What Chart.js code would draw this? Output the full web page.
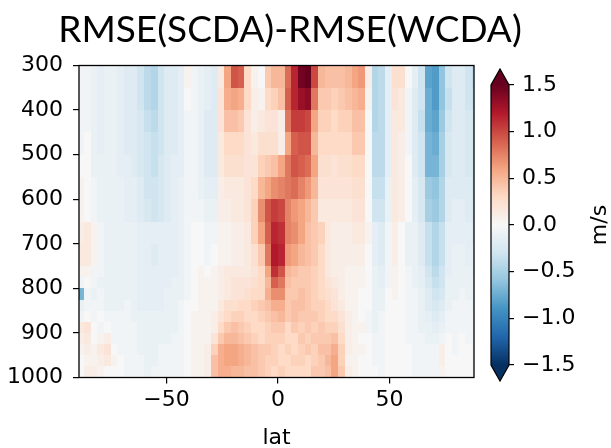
<!DOCTYPE html>
<html>
<head>
<meta charset="utf-8">
<script src="https://cdn.jsdelivr.net/npm/chart.js@4.4.0/dist/chart.umd.min.js"></script>
<style>
  html, body { margin: 0; padding: 0; background: #fff; }
  #wrap { position: relative; width: 611px; height: 448px; overflow: hidden; }
  #main { position: absolute; left: 0; top: 0; }
  #cbar { position: absolute; left: 480px; top: 0; }
</style>
</head>
<body>
<div id="wrap">
  <canvas id="main" width="580" height="448"></canvas>
  <canvas id="cbar" width="131" height="448"></canvas>
</div>
<script>
// latitude centres of the grid columns (deg)
const latCenters = [
  -88.5, -85.5, -82.5, -79.5, -76.5, -73.5, -70.5, -67.5, -64.5, -61.5,
  -58.5, -55.5, -52.5, -49.5, -46.5, -43.5, -40.5, -37.5, -34.5, -31.5,
  -28.5, -25.5, -22.5, -19.5, -16.5, -13.5, -10.5, -7.5, -4.5, -1.5,
  1.5, 4.5, 7.5, 10.5, 13.5, 16.5, 19.5, 22.5, 25.5, 28.5,
  31.5, 34.5, 37.5, 40.5, 43.5, 46.5, 49.5, 52.5, 55.5, 58.5,
  61.5, 64.5, 67.5, 70.5, 73.5, 76.5, 79.5, 82.5, 85.5, 88.5
];
// pressure edges of the rows (hPa)
const levelEdges = [300, 350, 400, 450, 500, 550, 600, 650, 700, 750, 775, 800, 825, 850, 875, 900, 925, 950, 975, 1000];

// RMSE(SCDA) - RMSE(WCDA), one row per layer (m/s)
const lev300 = [-0.05,-0.05,-0.1,-0.15,-0.1,-0.1,-0.15,-0.2,-0.2,-0.3,-0.4,-0.45,-0.3,-0.2,-0.2,
  -0.15,0.05,-0.05,-0.1,-0.15,-0.2,
  0.15,0.6,0.95,0.9,0.3,0.05,0.0,0.4,0.5,
  0.5,0.85,1.15,1.45,1.5,1.0,0.5,0.45,0.45,0.45,0.5,0.6,0.65,0.1,-0.45,
  -0.4,-0.15,0.25,0.25,0.0,-0.15,-0.3,-0.8,-0.85,-0.6,-0.3,-0.2,-0.2,-0.3,-0.4];
const lev350 = [-0.05,-0.05,-0.1,-0.15,-0.1,-0.1,-0.15,-0.2,-0.2,-0.3,-0.4,-0.45,-0.3,-0.2,-0.2,
  -0.15,0.0,-0.05,-0.1,-0.15,-0.2,
  0.2,0.55,0.6,0.55,0.3,0.1,0.05,0.3,0.35,
  0.45,0.9,1.15,1.3,1.35,0.8,0.4,0.4,0.35,0.4,0.45,0.5,0.55,0.05,-0.45,
  -0.4,-0.15,0.2,0.15,-0.05,-0.2,-0.3,-0.75,-0.85,-0.6,-0.35,-0.2,-0.2,-0.3,-0.35];
const lev400 = [-0.05,-0.05,-0.1,-0.15,-0.1,-0.1,-0.15,-0.2,-0.2,-0.25,-0.35,-0.4,-0.3,-0.2,-0.2,
  -0.15,-0.05,-0.05,-0.1,-0.2,-0.2,
  0.2,0.45,0.45,0.4,0.2,0.1,0.15,0.2,0.2,
  0.1,0.8,1.05,1.05,1.0,0.6,0.35,0.35,0.3,0.35,0.35,0.45,0.45,0.0,-0.45,
  -0.4,-0.15,0.15,0.15,-0.05,-0.2,-0.35,-0.75,-0.8,-0.55,-0.3,-0.2,-0.2,-0.25,-0.3];
const lev450 = [-0.05,0.0,-0.1,-0.15,-0.1,-0.1,-0.15,-0.2,-0.2,-0.25,-0.3,-0.35,-0.3,-0.2,-0.2,
  -0.15,-0.05,-0.05,-0.1,-0.2,-0.2,
  0.15,0.3,0.3,0.3,0.2,0.15,0.25,0.25,0.25,
  0.1,0.6,0.9,0.95,0.95,0.5,0.3,0.3,0.3,0.3,0.3,0.4,0.4,0.0,-0.4,
  -0.4,-0.15,0.15,0.1,-0.05,-0.2,-0.3,-0.7,-0.75,-0.5,-0.25,-0.2,-0.2,-0.25,-0.3];
const lev500 = [0.0,0.0,-0.1,-0.1,-0.1,-0.1,-0.15,-0.15,-0.2,-0.25,-0.3,-0.35,-0.25,-0.2,-0.15,
  -0.15,-0.05,-0.05,-0.1,-0.2,-0.2,
  0.15,0.25,0.25,0.25,0.2,0.2,0.35,0.4,0.45,
  0.6,0.8,0.95,0.9,0.85,0.6,0.25,0.25,0.2,0.25,0.25,0.3,0.3,0.0,-0.4,
  -0.4,-0.15,0.15,0.1,0.0,-0.2,-0.3,-0.7,-0.7,-0.5,-0.25,-0.2,-0.2,-0.25,-0.3];
const lev550 = [0.05,0.0,-0.05,-0.1,-0.1,-0.1,-0.1,-0.15,-0.15,-0.2,-0.3,-0.3,-0.25,-0.2,-0.15,
  -0.1,-0.05,-0.05,-0.1,-0.15,-0.15,
  0.1,0.15,0.15,0.15,0.2,0.3,0.5,0.6,0.7,
  0.75,0.8,0.85,0.75,0.65,0.5,0.2,0.2,0.2,0.2,0.2,0.25,0.25,0.0,-0.35,
  -0.35,-0.1,0.15,0.1,0.0,-0.15,-0.25,-0.55,-0.6,-0.45,-0.2,-0.2,-0.2,-0.2,-0.3];
const lev600 = [0.05,0.0,-0.05,-0.1,-0.1,-0.1,-0.1,-0.15,-0.15,-0.2,-0.25,-0.3,-0.25,-0.2,-0.15,
  -0.1,-0.05,-0.05,-0.05,-0.1,-0.1,
  0.1,0.1,0.15,0.15,0.2,0.35,0.7,0.95,1.05,
  1.0,0.75,0.65,0.6,0.5,0.4,0.15,0.15,0.15,0.15,0.15,0.2,0.2,0.0,-0.3,
  -0.3,-0.1,0.15,0.1,0.0,-0.15,-0.25,-0.5,-0.55,-0.45,-0.2,-0.15,-0.15,-0.2,-0.25];
const lev650 = [0.1,0.15,0.05,-0.05,-0.1,-0.1,-0.1,-0.1,-0.1,-0.15,-0.15,-0.15,-0.15,-0.15,-0.15,
  -0.1,-0.05,0.0,0.0,-0.05,-0.05,
  0.05,0.05,0.1,0.1,0.15,0.35,0.6,0.9,1.15,
  1.1,0.75,0.7,0.6,0.45,0.4,0.35,0.15,0.1,0.1,0.1,0.15,0.15,0.05,-0.15,
  -0.2,-0.05,0.1,0.0,-0.1,-0.1,-0.2,-0.35,-0.45,-0.35,-0.15,-0.15,-0.15,-0.15,-0.2];
const lev700 = [0.15,0.15,0.05,-0.05,-0.1,-0.1,-0.1,-0.1,-0.1,-0.15,-0.15,-0.2,-0.15,-0.15,-0.15,
  -0.1,-0.05,0.0,0.0,-0.05,0.0,
  0.05,0.05,0.1,0.1,0.15,0.25,0.4,0.8,1.2,
  1.15,0.65,0.6,0.5,0.45,0.4,0.3,0.15,0.1,0.1,0.1,0.1,0.1,0.0,-0.15,
  -0.2,-0.05,0.1,0.0,-0.1,-0.1,-0.2,-0.35,-0.45,-0.35,-0.15,-0.1,-0.1,-0.15,-0.15];
const lev750 = [0.05,0.05,-0.05,-0.05,-0.1,-0.1,-0.1,-0.1,-0.1,-0.15,-0.15,-0.15,-0.15,-0.15,-0.15,
  -0.1,-0.05,0.0,0.05,0.0,0.05,
  0.1,0.15,0.15,0.15,0.15,0.2,0.3,0.6,1.1,
  0.95,0.5,0.45,0.4,0.4,0.35,0.3,0.15,0.1,0.1,0.05,0.05,0.05,0.0,-0.1,
  -0.15,-0.05,0.05,0.0,-0.05,-0.1,-0.15,-0.3,-0.4,-0.3,-0.15,-0.1,-0.1,-0.1,-0.15];
const lev775 = [-0.05,0.0,-0.05,-0.1,-0.1,-0.1,-0.1,-0.1,-0.1,-0.15,-0.15,-0.15,-0.15,-0.15,-0.1,
  -0.1,-0.05,0.0,0.05,0.05,0.05,
  0.1,0.15,0.2,0.2,0.2,0.25,0.3,0.5,0.9,
  0.8,0.45,0.4,0.4,0.4,0.35,0.3,0.2,0.15,0.1,0.05,0.05,0.05,0.0,-0.1,
  -0.15,-0.05,0.05,0.0,-0.05,-0.1,-0.15,-0.25,-0.35,-0.3,-0.1,-0.1,-0.1,-0.1,-0.1];
const lev800 = [-0.7,-0.05,-0.1,-0.05,-0.1,-0.1,-0.1,-0.1,-0.1,-0.15,-0.15,-0.15,-0.15,-0.1,-0.1,
  -0.1,-0.05,0.0,0.05,0.05,0.05,
  0.1,0.15,0.2,0.2,0.25,0.3,0.3,0.55,0.7,
  0.7,0.4,0.4,0.45,0.4,0.35,0.3,0.25,0.2,0.1,0.05,0.05,0.0,0.0,-0.1,
  -0.1,0.0,0.05,0.0,-0.05,-0.05,-0.1,-0.2,-0.3,-0.25,-0.1,-0.1,-0.05,-0.1,-0.1];
const lev825 = [-0.1,-0.05,-0.05,-0.05,-0.1,-0.1,-0.1,-0.05,-0.1,-0.15,-0.15,-0.15,-0.15,-0.1,-0.1,
  -0.05,0.0,0.0,0.05,0.05,0.05,
  0.15,0.25,0.25,0.3,0.3,0.35,0.4,0.45,0.55,
  0.55,0.4,0.45,0.45,0.4,0.35,0.35,0.3,0.2,0.15,0.05,0.05,0.0,0.0,-0.1,
  -0.1,0.0,0.0,0.0,-0.05,-0.05,-0.1,-0.2,-0.25,-0.2,-0.1,-0.05,-0.05,-0.05,-0.1];
const lev850 = [-0.05,0.0,-0.05,0.0,-0.05,-0.05,-0.05,-0.05,-0.1,-0.1,-0.1,-0.1,-0.1,-0.1,-0.1,
  -0.05,0.0,0.05,0.05,0.05,0.1,
  0.2,0.3,0.35,0.35,0.3,0.3,0.35,0.4,0.45,
  0.5,0.4,0.45,0.4,0.4,0.4,0.35,0.3,0.3,0.2,0.1,0.05,0.0,-0.05,-0.1,
  -0.05,0.0,0.0,0.0,-0.05,-0.05,-0.1,-0.15,-0.2,-0.15,-0.05,-0.05,-0.05,-0.05,-0.05];
const lev875 = [0.15,0.2,0.0,-0.05,0.0,-0.05,-0.05,-0.05,-0.05,-0.1,-0.1,-0.1,-0.1,-0.1,-0.1,
  -0.05,0.0,0.05,0.05,0.05,0.1,
  0.3,0.4,0.45,0.4,0.35,0.3,0.3,0.35,0.4,
  0.4,0.3,0.4,0.35,0.4,0.35,0.4,0.35,0.35,0.25,0.1,0.05,0.05,-0.05,-0.1,
  -0.05,0.0,0.0,0.0,-0.05,-0.05,-0.1,-0.1,-0.15,-0.1,-0.05,-0.05,-0.05,-0.05,-0.05];
const lev900 = [0.1,0.15,0.0,0.05,0.1,-0.05,-0.05,-0.05,-0.05,-0.1,-0.1,-0.1,-0.1,-0.1,-0.05,
  -0.05,0.0,0.05,0.05,0.05,0.2,
  0.4,0.5,0.5,0.45,0.4,0.35,0.3,0.35,0.35,
  0.35,0.3,0.3,0.4,0.35,0.4,0.4,0.4,0.45,0.3,0.1,0.05,0.0,0.0,-0.05,
  -0.05,0.0,0.0,0.0,-0.05,-0.05,-0.05,-0.1,-0.1,-0.05,0.0,-0.05,0.0,-0.05,-0.05];
const lev925 = [0.05,0.1,0.05,0.15,0.2,0.0,-0.05,-0.05,-0.05,-0.1,-0.1,-0.1,-0.05,-0.05,-0.05,
  -0.05,0.0,0.05,0.05,0.1,0.35,
  0.55,0.6,0.6,0.55,0.5,0.45,0.4,0.4,0.35,
  0.3,0.35,0.3,0.35,0.4,0.35,0.45,0.45,0.55,0.35,0.1,0.05,0.05,0.0,-0.05,
  -0.05,0.0,0.0,0.0,0.0,-0.05,-0.05,-0.05,-0.05,0.1,0.0,-0.05,0.0,0.0,-0.05];
const lev950 = [0.0,0.05,0.05,0.1,0.15,0.05,0.0,-0.05,-0.05,-0.05,-0.1,-0.1,-0.05,-0.05,-0.05,
  -0.05,0.0,0.05,0.05,0.1,0.45,
  0.55,0.6,0.6,0.55,0.5,0.45,0.4,0.35,0.35,
  0.3,0.3,0.35,0.35,0.3,0.35,0.4,0.5,0.6,0.35,0.05,0.05,0.0,0.0,-0.05,
  -0.05,0.0,0.0,0.0,0.0,-0.05,-0.05,-0.05,-0.05,0.1,0.0,0.0,0.0,0.0,-0.05];
const lev975 = [0.0,0.1,0.1,0.05,0.0,0.0,0.0,-0.05,-0.05,-0.05,-0.1,-0.05,-0.05,-0.05,-0.05,
  -0.05,0.0,0.05,0.05,0.1,0.45,
  0.55,0.55,0.5,0.5,0.45,0.45,0.4,0.35,0.3,
  0.35,0.3,0.3,0.3,0.3,0.4,0.4,0.45,0.6,0.4,0.1,0.05,0.0,0.0,0.0,
  -0.05,0.0,0.0,0.0,0.0,-0.05,-0.05,-0.05,-0.05,0.05,0.0,0.0,0.0,0.0,-0.05];

const diffRows = [lev300, lev350, lev400, lev450, lev500, lev550, lev600, lev650, lev700,
  lev750, lev775, lev800, lev825, lev850, lev875, lev900, lev925, lev950, lev975];

// axis ticks
const latTicks = [-50, 0, 50];
const levelTicks = [300, 400, 500, 600, 700, 800, 900, 1000];
const cbarTicks = [-1.5, -1.0, -0.5, 0.0, 0.5, 1.0, 1.5];

// RdBu_r colour stops
const cmapStops = [
  [5, 48, 97], [33, 102, 172], [67, 147, 195], [146, 197, 222], [209, 229, 240],
  [247, 247, 247], [253, 219, 199], [244, 165, 130], [214, 96, 77], [178, 24, 43], [103, 0, 31]
];
const vmin = cbarTicks[0], vmax = cbarTicks[cbarTicks.length - 1];

function rdbuR(v) {
  let t = (v - vmin) / (vmax - vmin);
  t = Math.max(0, Math.min(1, t));
  const p = t * (cmapStops.length - 1);
  const k = Math.min(cmapStops.length - 2, Math.floor(p));
  const f = p - k;
  const a = cmapStops[k], b = cmapStops[k + 1];
  const c = [0, 1, 2].map(n => Math.round(a[n] + (b[n] - a[n]) * f));
  return 'rgb(' + c.join(',') + ')';
}

function minus(s) {
  return String(s).replace('-', '\u2212');
}

// one point per grid cell, with its edges
const halfWidth = (latCenters[1] - latCenters[0]) / 2;
const cells = [];
diffRows.forEach((row, j) => {
  row.forEach((v, i) => {
    cells.push({
      x: latCenters[i], y: (levelEdges[j] + levelEdges[j + 1]) / 2, v: v,
      x0: latCenters[i] - halfWidth, x1: latCenters[i] + halfWidth,
      y0: levelEdges[j], y1: levelEdges[j + 1]
    });
  });
});

const tickFont = { family: 'DejaVu Sans', size: 22 };

// pcolormesh-like cells + frame
const heatmapPlugin = {
  id: 'heatmap',
  beforeDatasetsDraw(chart) {
    const { ctx, chartArea, scales } = chart;
    ctx.save();
    ctx.beginPath();
    ctx.rect(chartArea.left, chartArea.top, chartArea.width, chartArea.height);
    ctx.clip();
    chart.data.datasets[0].data.forEach(c => {
      const px0 = Math.round(scales.x.getPixelForValue(c.x0));
      const px1 = Math.round(scales.x.getPixelForValue(c.x1));
      const py0 = Math.round(scales.y.getPixelForValue(c.y0));
      const py1 = Math.round(scales.y.getPixelForValue(c.y1));
      ctx.fillStyle = rdbuR(c.v);
      ctx.fillRect(px0, py0, px1 - px0, py1 - py0);
    });
    ctx.restore();
  },
  afterDraw(chart) {
    const { ctx, chartArea } = chart;
    ctx.save();
    ctx.strokeStyle = '#000';
    ctx.lineWidth = 1.3;
    ctx.strokeRect(chartArea.left, chartArea.top, chartArea.width, chartArea.height);
    ctx.restore();
  }
};

new Chart(document.getElementById('main'), {
  type: 'scatter',
  data: { datasets: [{ data: cells, pointRadius: 0, pointHoverRadius: 0 }] },
  options: {
    responsive: false,
    animation: false,
    events: [],
    layout: { padding: 0 },
    plugins: {
      legend: { display: false },
      tooltip: { enabled: false },
      title: {
        display: true,
        text: 'RMSE(SCDA)-RMSE(WCDA)',
        color: '#000',
        font: { family: 'Lato', size: 37, weight: 'normal', lineHeight: 1.2 },
        padding: { top: 8, bottom: 13.1 }
      }
    },
    scales: {
      x: {
        type: 'linear',
        min: -89.2,
        max: 87.9,
        afterBuildTicks: s => { s.ticks = latTicks.map(v => ({ value: v })); },
        afterFit: s => { s.height = 70.5; },
        grid: { drawOnChartArea: false, drawTicks: true, tickLength: 6, color: '#000', lineWidth: 1.2 },
        border: { display: false },
        ticks: { color: '#000', font: tickFont, padding: 4, maxRotation: 0, callback: v => minus(v) },
        title: {
          display: true, text: 'lat', color: '#000',
          font: { family: 'DejaVu Sans', size: 22, lineHeight: 0.87 },
          padding: 0
        }
      },
      y: {
        type: 'linear',
        reverse: true,
        min: levelEdges[0],
        max: levelEdges[levelEdges.length - 1],
        afterBuildTicks: s => { s.ticks = levelTicks.map(v => ({ value: v })); },
        afterFit: s => { s.width = 79; },
        grid: { drawOnChartArea: false, drawTicks: true, tickLength: 6, color: '#000', lineWidth: 1.2 },
        border: { display: false },
        ticks: { color: '#000', font: tickFont, padding: 10, callback: v => String(v) }
      },
      // empty right-hand spacer where the colour bar sits
      ySpace: {
        type: 'linear',
        position: 'right',
        afterFit: s => { s.width = 106; },
        grid: { display: false },
        border: { display: false },
        ticks: { display: false }
      }
    }
  },
  plugins: [heatmapPlugin]
});

// colour bar with extend='both' triangles
const cbarPlugin = {
  id: 'cbarFill',
  beforeDatasetsDraw(chart) {
    const { ctx, chartArea: a, scales } = chart;
    const top = scales.y.getPixelForValue(vmax);
    const bottom = scales.y.getPixelForValue(vmin);
    const ext = 16;
    const mid = (a.left + a.right) / 2;
    const g = ctx.createLinearGradient(0, bottom, 0, top);
    cmapStops.forEach((c, k) => g.addColorStop(k / (cmapStops.length - 1), 'rgb(' + c.join(',') + ')'));
    ctx.save();
    ctx.fillStyle = g;
    ctx.fillRect(a.left, top, a.right - a.left, bottom - top);
    ctx.fillStyle = rdbuR(vmax + 1);
    ctx.beginPath();
    ctx.moveTo(a.left, top); ctx.lineTo(mid, top - ext); ctx.lineTo(a.right, top); ctx.closePath();
    ctx.fill();
    ctx.fillStyle = rdbuR(vmin - 1);
    ctx.beginPath();
    ctx.moveTo(a.left, bottom); ctx.lineTo(mid, bottom + ext); ctx.lineTo(a.right, bottom); ctx.closePath();
    ctx.fill();
    ctx.strokeStyle = '#000';
    ctx.lineWidth = 1.2;
    ctx.beginPath();
    ctx.moveTo(a.left, bottom); ctx.lineTo(a.left, top); ctx.lineTo(mid, top - ext);
    ctx.lineTo(a.right, top); ctx.lineTo(a.right, bottom); ctx.lineTo(mid, bottom + ext);
    ctx.closePath();
    ctx.stroke();
    ctx.restore();
  },
  afterDraw(chart) {
    const { ctx, chartArea: a } = chart;
    ctx.save();
    ctx.translate(120, (a.top + a.bottom) / 2);
    ctx.rotate(-Math.PI / 2);
    ctx.fillStyle = '#000';
    ctx.font = '22px "DejaVu Sans"';
    ctx.textAlign = 'center';
    ctx.textBaseline = 'middle';
    ctx.fillText('m/s', 0, 0);
    ctx.restore();
  }
};

new Chart(document.getElementById('cbar'), {
  type: 'scatter',
  data: { datasets: [{ data: [], pointRadius: 0 }] },
  options: {
    responsive: false,
    animation: false,
    events: [],
    layout: { padding: { left: 11, right: 0, top: 85, bottom: 83 } },
    plugins: { legend: { display: false }, tooltip: { enabled: false } },
    scales: {
      x: { display: false, min: 0, max: 1 },
      y: {
        position: 'right',
        min: vmin,
        max: vmax,
        afterBuildTicks: s => { s.ticks = cbarTicks.map(v => ({ value: v })); },
        afterFit: s => { s.width = 102; },
        grid: { drawOnChartArea: false, drawTicks: true, tickLength: 5, color: '#000', lineWidth: 1.2 },
        border: { display: false },
        ticks: { color: '#000', font: tickFont, padding: 8, callback: v => minus(v.toFixed(1)) }
      }
    }
  },
  plugins: [cbarPlugin]
});
</script>
</body>
</html>
